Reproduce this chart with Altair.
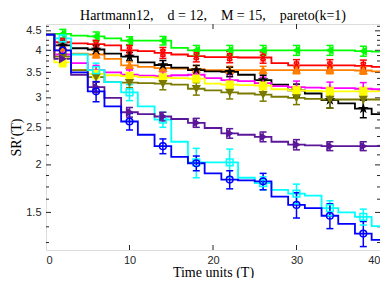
import altair as alt
import pandas as pd

# ---- data ----
T_line = list(range(0, 41, 2))           # 0,2,...,40
T_mark = list(range(2, 39, 4))           # 2,6,...,38  (marker / error-bar positions)

series = ["green", "red", "orange", "black", "magenta", "yellow", "olive", "cyan", "purple", "blue"]
colors = ["#00FF00", "#FF0000", "#FF8000", "#000000", "#FF00FF", "#FFFF00", "#7A7A00", "#00FFFF", "#5B1699", "#0000FF"]

green   = [4.40, 4.42, 4.37, 4.35, 4.30, 4.24, 4.24, 4.24, 4.06, 4.00, 4.00, 4.00, 4.00, 4.00, 4.00, 4.00, 4.00, 4.00, 4.00, 3.98, 3.97]
red     = [4.40, 4.20, 4.17, 4.15, 4.12, 4.00, 3.98, 3.94, 3.90, 3.86, 3.84, 3.84, 3.83, 3.83, 3.70, 3.65, 3.65, 3.65, 3.65, 3.64, 3.62]
orange  = [4.40, 4.00, 3.92, 3.90, 3.80, 3.65, 3.62, 3.59, 3.58, 3.57, 3.55, 3.55, 3.55, 3.55, 3.55, 3.55, 3.55, 3.55, 3.55, 3.54, 3.52]
black   = [4.40, 4.12, 4.05, 4.02, 3.92, 3.85, 3.72, 3.66, 3.60, 3.55, 3.52, 3.51, 3.45, 3.34, 3.25, 3.14, 3.08, 2.96, 2.90, 2.81, 2.72]
magenta = [4.40, 3.90, 3.70, 3.55, 3.50, 3.45, 3.43, 3.42, 3.44, 3.45, 3.38, 3.34, 3.32, 3.28, 3.22, 3.20, 3.19, 3.18, 3.18, 3.17, 3.16]
yellow  = [4.40, 3.72, 3.55, 3.47, 3.44, 3.42, 3.40, 3.39, 3.38, 3.37, 3.27, 3.25, 3.24, 3.23, 3.16, 3.14, 3.13, 3.12, 3.12, 3.12, 3.12]
olive   = [4.40, 3.85, 3.55, 3.40, 3.30, 3.29, 3.28, 3.27, 3.25, 3.17, 3.14, 3.10, 3.08, 3.06, 3.02, 3.00, 2.98, 2.97, 2.97, 2.97, 2.97]
cyan    = [4.40, 4.30, 3.90, 3.55, 3.30, 3.10, 2.85, 2.63, 2.30, 2.03, 2.03, 2.03, 1.85, 1.79, 1.72, 1.68, 1.66, 1.54, 1.50, 1.46, 1.38]
purple  = [4.40, 3.80, 3.45, 3.20, 3.00, 2.75, 2.72, 2.68, 2.64, 2.58, 2.50, 2.42, 2.40, 2.37, 2.30, 2.26, 2.25, 2.24, 2.24, 2.24, 2.24]
blue    = [4.40, 4.00, 3.50, 3.12, 2.85, 2.60, 2.40, 2.24, 2.10, 2.02, 1.90, 1.83, 1.82, 1.81, 1.65, 1.57, 1.54, 1.47, 1.40, 1.32, 1.27]

# half-length of the error bars at T_mark
err_green   = [0.12, 0.12, 0.10, 0.11, 0.12, 0.12, 0.12, 0.12, 0.12, 0.12]
err_red     = [0.10, 0.10, 0.12, 0.13, 0.13, 0.13, 0.13, 0.13, 0.13, 0.13]
err_orange  = [0.08, 0.08, 0.08, 0.08, 0.08, 0.08, 0.08, 0.08, 0.08, 0.08]
err_black   = [0.10, 0.10, 0.10, 0.10, 0.10, 0.10, 0.10, 0.12, 0.14, 0.15]
err_magenta = [0.10, 0.10, 0.10, 0.10, 0.10, 0.12, 0.12, 0.12, 0.12, 0.12]
err_yellow  = [0.10, 0.10, 0.08, 0.08, 0.08, 0.08, 0.08, 0.08, 0.08, 0.08]
err_olive   = [0.10, 0.10, 0.10, 0.12, 0.12, 0.12, 0.12, 0.12, 0.15, 0.15]
err_cyan    = [0.12, 0.15, 0.15, 0.12, 0.18, 0.17, 0.07, 0.10, 0.07, 0.07]
err_purple  = [0.10, 0.10, 0.08, 0.07, 0.07, 0.07, 0.07, 0.07, 0.06, 0.06]
err_blue    = [0.12, 0.19, 0.13, 0.10, 0.09, 0.10, 0.09, 0.12, 0.11, 0.10]

star = ("M0,-1L0.225,-0.309L0.951,-0.309L0.363,0.118L0.588,0.809L0,0.382"
        "L-0.588,0.809L-0.363,0.118L-0.951,-0.309L-0.225,-0.309Z")
xshape = "M-0.8,-0.8L0.8,0.8M-0.8,0.8L0.8,-0.8M-0.8,-1L0.8,-1M-0.8,1L0.8,1"
plus = "M-1,0L1,0M0,-1L0,1"
shapes = ["triangle-left", xshape, "triangle-up", star, plus, "square",
          "triangle-down", "square", "triangle-right", "circle"]
filled = [True, False, True, True, False, True, True, False, True, False]

y_major = [1.5, 2, 2.5, 3, 3.5, 4, 4.5]
y_minor = [1.25, 1.375, 1.625, 1.75, 1.875, 2.125, 2.25, 2.375, 2.625, 2.75, 2.875,
           3.125, 3.25, 3.375, 3.625, 3.75, 3.875, 4.125, 4.25, 4.375, 4.625]
x_major = [0, 10, 20, 30, 40]

title_text = "Hartmann12,\u2002\u2002d = 12,\u2002\u2002M = 15,\u2002\u2002pareto(k=1)"

# ---- build tables ----
lines = {"green": green, "red": red, "orange": orange, "black": black, "magenta": magenta,
         "yellow": yellow, "olive": olive, "cyan": cyan, "purple": purple, "blue": blue}
errs = {"green": err_green, "red": err_red, "orange": err_orange, "black": err_black,
        "magenta": err_magenta, "yellow": err_yellow, "olive": err_olive, "cyan": err_cyan,
        "purple": err_purple, "blue": err_blue}

line_rows, mark_rows = [], []
for i, s in enumerate(series):
    for t, v in zip(T_line, lines[s]):
        line_rows.append({"s": s, "o": i, "T": t, "V": v})
    for j, t in enumerate(T_mark):
        v = lines[s][T_line.index(t)]
        e = errs[s][j]
        mark_rows.append({"s": s, "o": i, "T": t, "V": v, "lo": v - e, "hi": v + e,
                          "fillc": colors[i] if filled[i] else "transparent"})
ld = pd.DataFrame(line_rows)
md = pd.DataFrame(mark_rows)

W, H = 334, 226
xs = alt.Scale(domain=[0, 40], nice=False)
ys = alt.Scale(type="log", domain=[1.195, 4.69], nice=False)
cs = alt.Scale(domain=series, range=colors)
shs = alt.Scale(domain=series, range=shapes)

xax = alt.Axis(values=x_major, ticks=False, domain=False, grid=False, labelPadding=4,
               labelFont="Liberation Sans", labelFontSize=11, labelColor="#262626",
               title="Time units (T)", titleFont="Liberation Serif", titleFontSize=14,
               titleFontWeight="normal", titleColor="#000000", titlePadding=0)
yax = alt.Axis(values=y_major, ticks=False, domain=False, grid=False, labelPadding=5,
               labelFont="Liberation Sans", labelFontSize=11, labelColor="#262626",
               title="SR\u2032(T)", titleFont="Liberation Serif", titleFontSize=14,
               titleFontWeight="normal", titleColor="#000000", titlePadding=2)

base_line = alt.Chart(ld)
base_mark = alt.Chart(md)

line_layer = base_line.mark_line(interpolate="step", strokeWidth=1.8).encode(
    x=alt.X("T:Q", scale=xs, axis=xax),
    y=alt.Y("V:Q", scale=ys, axis=yax),
    color=alt.Color("s:N", scale=cs, legend=None),
    detail="s:N",
)
bar_layer = base_mark.mark_rule(strokeWidth=1.5).encode(
    x="T:Q", y="lo:Q", y2="hi:Q",
    color=alt.Color("s:N", scale=cs, legend=None),
)
cap_lo = base_mark.mark_tick(orient="horizontal", size=7, thickness=1.5, opacity=1).encode(
    x="T:Q", y="lo:Q", color=alt.Color("s:N", scale=cs, legend=None))
cap_hi = base_mark.mark_tick(orient="horizontal", size=7, thickness=1.5, opacity=1).encode(
    x="T:Q", y="hi:Q", color=alt.Color("s:N", scale=cs, legend=None))
pt_layer = base_mark.mark_point(filled=False, size=45, strokeWidth=1.5, opacity=1).encode(
    x="T:Q", y="V:Q",
    color=alt.Color("s:N", scale=cs, legend=None),
    shape=alt.Shape("s:N", scale=shs, legend=None),
    fill=alt.Fill("fillc:N", scale=None),
)

# inward axis ticks (box style)
ymaj = pd.DataFrame({"v": y_major})
ymin = pd.DataFrame({"v": y_minor})
xmaj = pd.DataFrame({"v": x_major[1:-1]})
tick_col = "#262626"
tl = alt.Chart(ymaj).mark_rule(color=tick_col, strokeWidth=1).encode(
    y=alt.Y("v:Q", scale=ys), x=alt.value(0), x2=alt.value(5))
tr = alt.Chart(ymaj).mark_rule(color=tick_col, strokeWidth=1).encode(
    y=alt.Y("v:Q", scale=ys), x=alt.value(W - 5), x2=alt.value(W))
ml = alt.Chart(ymin).mark_rule(color=tick_col, strokeWidth=1).encode(
    y=alt.Y("v:Q", scale=ys), x=alt.value(0), x2=alt.value(3))
mr = alt.Chart(ymin).mark_rule(color=tick_col, strokeWidth=1).encode(
    y=alt.Y("v:Q", scale=ys), x=alt.value(W - 3), x2=alt.value(W))
tb = alt.Chart(xmaj).mark_rule(color=tick_col, strokeWidth=1).encode(
    x=alt.X("v:Q", scale=xs), y=alt.value(H - 5), y2=alt.value(H))
tt = alt.Chart(xmaj).mark_rule(color=tick_col, strokeWidth=1).encode(
    x=alt.X("v:Q", scale=xs), y=alt.value(0), y2=alt.value(5))

chart = alt.layer(tl, tr, ml, mr, tb, tt, line_layer, bar_layer, cap_lo, cap_hi, pt_layer).properties(
    width=W, height=H,
    title=alt.TitleParams(title_text,
                          font="Liberation Serif", fontSize=14, fontWeight="normal",
                          color="#000000", offset=1, anchor="middle"),
    autosize=alt.AutoSizeParams(type="none"),
    padding={"left": 38, "top": 16, "right": 0, "bottom": 28},
).configure_view(stroke="#262626", strokeWidth=1).configure(background="white")

chart.save("out.html", embed_options={"renderer": "svg", "actions": False})
